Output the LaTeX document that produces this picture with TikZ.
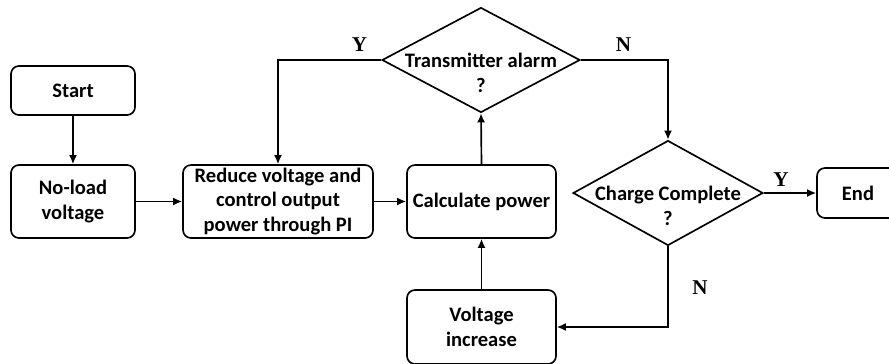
\documentclass[tikz,border=0pt]{standalone}
\usepackage{fontspec}
\setmainfont{Carlito}
\newfontfamily\ynfont{Liberation Serif}
\usetikzlibrary{arrows.meta,shapes.geometric}

\begin{document}
\begin{tikzpicture}[x=0.02cm, y=-0.02cm, line width=0.95pt,
	every node/.style={font=\fontsize{11.7}{14.2}\selectfont\bfseries, align=center},
	>={Latex[length=5.2pt,width=4.6pt]},
	box/.style={draw, rounded corners=4.5pt, inner sep=0pt},
	decision/.style={draw, diamond, inner sep=0pt, minimum width=#1, minimum height=2.1cm},
	yn/.style={font=\ynfont\fontsize{12}{14}\selectfont\bfseries}]
	\useasboundingbox (0,0) rectangle (889,363);
	\node[box, minimum width=2.48cm, minimum height=0.98cm] (start) at (73,90.5) {Start};
	\node[box, minimum width=2.48cm, minimum height=1.46cm] (noload) at (73,201.5) {No-load\\voltage};
	\node[box, minimum width=3.8cm, minimum height=1.46cm] (reduce) at (278,201.5) {Reduce voltage and\\control output\\power through PI};
	\node[box, minimum width=2.98cm, minimum height=1.46cm] (calc) at (481.5,201.5) {Calculate power};
	\node[box, minimum width=2.98cm, minimum height=1.48cm] (volt) at (481.5,327) {Voltage\\increase};
	\node[decision=3.96cm] (alarm) at (481,60) {};
	\node (alarmtxt) at (481,72.5) {Transmitter alarm\\?};
	\node[decision=3.8cm] (charge) at (668,193) {};
	\node (chargetxt) at (668,205.5) {Charge Complete\\?};
	\node[box, minimum width=1.64cm, minimum height=1.0cm] (end) at (858,193) {End};
	
	\draw[->] (start) -- (noload);
	\draw[->] (noload) -- (reduce);
	\draw[->] (reduce) -- (calc);
	\draw[->] (calc.north) -- (alarm.south);
	\draw[->] (alarm.west) -| (reduce.north) node[yn, pos=0.105, above=1pt] {Y};
	\draw[->] (alarm.east) -| (charge.north) node[yn, pos=0.245, above=1pt] {N};
	\draw[->] (charge.east) -- (end.west) node[yn, pos=0.33, above] {Y};
	\draw[->] (charge.south) |- (volt.east) node[yn, pos=0.256, right=10pt] {N};
	\draw[->] (volt) -- (calc);
\end{tikzpicture}
\end{document}
